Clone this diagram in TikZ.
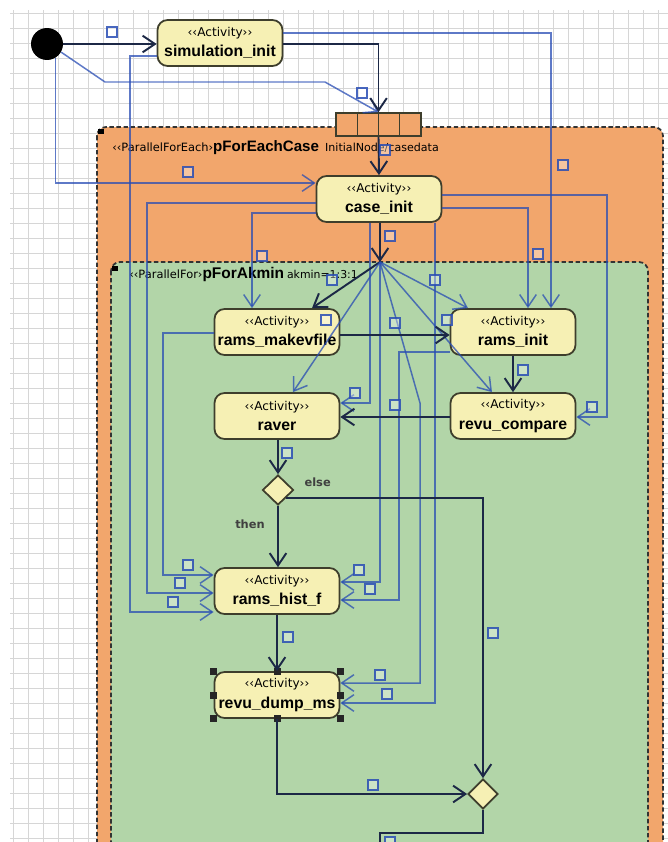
\documentclass[tikz,border=0pt]{standalone}
\usepackage{fontspec}
\setmainfont{Liberation Sans}
\newfontfamily\tahoma{DejaVu Sans}
\usetikzlibrary{shapes.geometric,arrows.meta}
\definecolor{gridgray}{RGB}{214,214,214}
\definecolor{caseorange}{RGB}{242,166,108}
\definecolor{akmingreen}{RGB}{178,213,168}
\definecolor{actfill}{RGB}{246,240,180}
\definecolor{actline}{RGB}{62,62,44}
\definecolor{flowdark}{RGB}{28,40,70}
\definecolor{flowblue}{RGB}{40,76,180}
\newcommand{\stereo}{\tahoma\fontsize{6.9}{7.5}\selectfont}
\newcommand{\actname}{\fontsize{9}{10}\selectfont\bfseries}
\tikzstyle{activity}=[rectangle,rounded corners=0.2cm,draw=actline,line width=1pt,fill=actfill,minimum width=2.5cm,minimum height=0.92cm,inner sep=0pt,align=center]
\tikzstyle{decision}=[diamond,draw=actline,line width=1pt,fill=actfill,minimum width=0.62cm,minimum height=0.6cm,inner sep=0pt]
\tikzstyle{ctrl}=[draw=flowdark,line width=1.1pt,-{Straight Barb[length=7pt,width=9.5pt]}]
\tikzstyle{objf}=[draw=flowblue,draw opacity=0.75,line width=0.85pt,-{Straight Barb[length=7pt,width=9.5pt]}]
\tikzstyle{tag}=[draw=flowblue,draw opacity=0.85,line width=0.8pt,fill=white,fill opacity=0.35]
\tikzstyle{region}=[rounded corners=0.18cm,draw=black!80,line width=1pt,dash pattern=on 2.5pt off 1.5pt]
\tikzstyle{handle}=[fill=black!85]
\tikzstyle{small}=[font=\tahoma\fontsize{6.3}{7}\selectfont,inner sep=0pt]

\begin{document}
\begin{tikzpicture}[x=0.02cm,y=-0.02cm]
    \useasboundingbox (0,0) rectangle (668,842);
    \clip (0,0) rectangle (668,842);
    \foreach \g in {13,28,...,658} \draw[gridgray,line width=0.5pt] (\g,10) -- (\g,842);
    \foreach \g in {13,28,...,838} \draw[gridgray,line width=0.5pt] (10,\g) -- (668,\g);

    \draw[region,fill=caseorange] (97,127) rectangle (663,880);
    \draw[region,fill=akmingreen] (111,262) rectangle (648,880);
    \fill[black] (98,129) rectangle (104,134);
    \fill[black] (112,266) rectangle (118,271);

    \node[anchor=west,inner sep=0pt] (hdrcase) at (112,148) {{\tahoma\fontsize{6.5}{7}\selectfont ‹‹ParallelForEach›}{\fontsize{8.6}{10}\selectfont\bfseries pForEachCase}};
    \node[anchor=west,inner sep=0pt] (hdrakmin) at (129,274) {{\tahoma\fontsize{6.5}{7}\selectfont ‹‹ParallelFor›}{\fontsize{8.8}{10}\selectfont\bfseries pForAkmin}\,{\tahoma\fontsize{6.2}{7}\selectfont akmin=1:3:1}};

    \node[circle,fill=black,minimum size=0.64cm,inner sep=0pt] (init) at (47,44) {};
    \node[activity] (simul) at (220,43) {\stereo ‹‹Activity››\\[-0.5pt]\actname simulation\_init};
    \node[draw=actline,line width=1pt,fill=caseorange,minimum width=1.7cm,minimum height=0.46cm,inner sep=0pt] (pin) at (378.5,124.5) {};
    \foreach \d in {357.5,378.5,399.5} \draw[actline,line width=1pt] (\d,113) -- (\d,136);
    \node[small] (pinlabel) at (382,148) {InitialNode/casedata};
    \node[activity] (case) at (379,199) {\stereo ‹‹Activity››\\[-0.5pt]\actname case\_init};
    \node[activity] (mkv) at (277,332) {\stereo ‹‹Activity››\\[-0.5pt]\actname rams\_makevfile};
    \node[activity] (rinit) at (513,332) {\stereo ‹‹Activity››\\[-0.5pt]\actname rams\_init};
    \node[activity] (raver) at (277,416) {\stereo ‹‹Activity››\\[-0.5pt]\actname raver};
    \node[activity] (revc) at (513,416) {\stereo ‹‹Activity››\\[-0.5pt]\actname revu\_compare};
    \node[decision] (dec) at (278,490) {};
    \node[activity] (hist) at (277,591) {\stereo ‹‹Activity››\\[-0.5pt]\actname rams\_hist\_f};
    \node[activity] (dump) at (277,695) {\stereo ‹‹Activity››\\[-0.5pt]\actname revu\_dump\_ms};
    \node[decision,minimum width=0.6cm] (merge) at (483,794) {};
    \coordinate (fan) at (380,262);
    \coordinate (exit) at (380,850);
    \foreach \a in {north west,north,north east,east,south east,south,south west,west}
        \fill[handle] (dump.\a) +(-3.5,-3.5) rectangle +(3.5,3.5);

    \draw[ctrl] (init) -- (simul.west |- init);
    \draw[objf] (init.-58) -- (init.-58 |- 0,183) -- (case.west |- 0,183);
    \draw[objf] (init.-30) -- (105,82) -- (325,82) -- (pin.north);
    \draw[ctrl] (simul.east |- 0,44) -| (pin.north);
    \draw[objf] (simul.east |- 0,33) -| (rinit.north -| 551,0);
    \draw[objf] (simul.west |- 0,56) -| (130,612) -- (hist.west |- 0,612);
    \draw[ctrl] (pin.south) -- (case.north);
    \draw[objf] (case.west |- 0,203) -| (147,593) -- (hist.west |- 0,593);
    \draw[objf] (case.west |- 0,213) -| (mkv.north -| 252,0);
    \draw[ctrl] (case.south -| fan) -- (fan);
    \draw[objf] (case.south -| 370,0) |- (raver.east |- 0,403);
    \draw[objf] (case.east |- 0,195) -| (607,417) -- (revc.east |- 0,417);
    \draw[objf] (case.east |- 0,208) -| (rinit.north -| 528,0);
    \draw[objf] (case.south -| 435,0) |- (dump.east |- 0,703);
    \draw[ctrl] (fan) -- (mkv.north -| 312,0);
    \draw[objf] (fan) -- (raver.north -| 293,0);
    \draw[objf] (fan) -- (rinit.north -| 468,0);
    \draw[objf] (fan) -- (revc.north -| 492,0);
    \draw[objf] (fan) -- (420,403) |- (dump.east |- 0,683);
    \draw[objf] (fan) |- (hist.east |- 0,582);
    \draw[objf] (rinit.west |- 0,352) -| (399,600) -- (hist.east |- 0,600);
    \draw[ctrl] (mkv.east |- 0,335) -- (rinit.west |- 0,335);
    \draw[objf] (mkv.west |- 0,333) -| (163,575) -- (hist.west |- 0,575);
    \draw[ctrl] (rinit.south) -- (revc.north);
    \draw[ctrl] (revc.west |- 0,417) -- (raver.east |- 0,417);
    \draw[ctrl] (raver.south -| dec.north) -- (dec.north);
    \draw[ctrl] (dec.south) -- (hist.north -| dec.south) node[small,pos=0.3,left=7pt,font=\tahoma\fontsize{6.5}{7}\selectfont\bfseries,text=black!75] (lblthen) {then};
    \draw[ctrl] (dec.south east) -| (merge.north) node[small,pos=0.08,above=6pt,font=\tahoma\fontsize{6.5}{7}\selectfont\bfseries,text=black!75] (lblelse) {else};
    \draw[ctrl] (hist.south) -- (dump.north);
    \draw[ctrl] (dump.south) |- (merge.west);
    \draw[ctrl,-] (merge.south) |- (exit |- 0,833) -- (exit);

    \foreach \x/\y in {112/32,362/93,563/165,188/172,385/150,390/236,262/256,538/254,332/280,435/280,326/320,395/323,447/320,523/370,355/393,395/405,592/407,287/453,188/565,180/583,173/602,359/570,370/589,288/637,493/633,380/675,387/694,373/785,390/842}
        \draw[tag] (\x-5,\y-5) rectangle ++(10,10);
\end{tikzpicture}
\end{document}
